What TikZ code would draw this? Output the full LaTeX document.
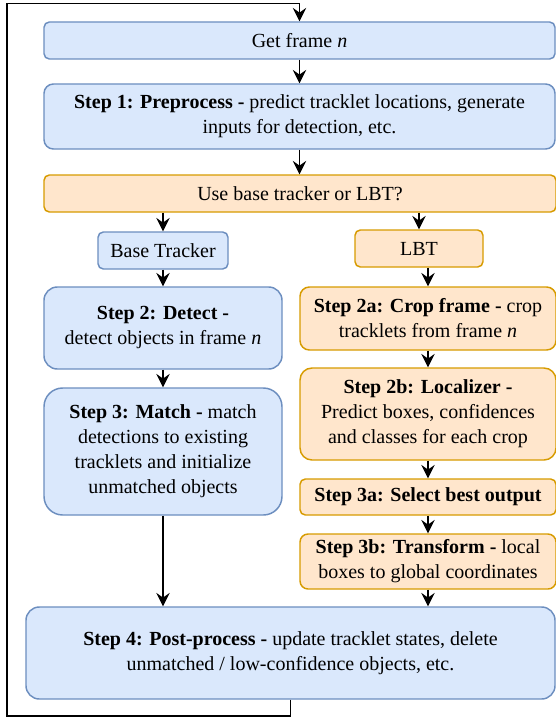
\documentclass[tikz,border=0pt]{standalone}
\usepackage{fontspec}
\setmainfont{Liberation Serif}
\usetikzlibrary{arrows.meta}
\definecolor{bfill}{HTML}{DAE8FC}
\definecolor{bline}{HTML}{6C8EBF}
\definecolor{ofill}{HTML}{FFE6CC}
\definecolor{oline}{HTML}{D79B00}

\tikzset{
	box/.style = {draw, line width = 1.1pt, inner sep = 0pt, align = center, font = \rmfamily\fontsize{15}{18.75}\selectfont},
	bluebox/.style = {box, fill = bfill, draw = bline, rounded corners = #1},
	bluebox/.default = 4pt,
	orangebox/.style = {box, fill = ofill, draw = oline, rounded corners = #1},
	orangebox/.default = 4pt,
	flow/.style = {line width = 1.2pt, -{Stealth[length = 10pt, width = 10pt, inset = 3.5pt]}}
}

\begin{document}
\begin{tikzpicture}[x = 0.75pt, y = -0.75pt]
	\useasboundingbox (0,0) rectangle (556,717);
	% main column
	\node[bluebox, minimum width = 383.25pt, minimum height = 27.75pt] (getframe) at (299.5,40.5) {Get frame \textit{n}};
	\node[bluebox = 7pt, minimum width = 383.25pt, minimum height = 48.75pt] (step1) at (299.5,116.5) {\textbf{Step 1: Preprocess -} predict tracklet locations, generate\\inputs for detection, etc.};
	\node[orangebox, minimum width = 384pt, minimum height = 27.75pt] (choice) at (300,193.5) {Use base tracker or LBT?};
	% base tracker branch
	\node[bluebox, minimum width = 97.5pt, minimum height = 27.75pt] (base) at (163,250.5) {Base Tracker};
	\node[bluebox = 10pt, minimum width = 178.5pt, minimum height = 61.5pt] (step2) at (163,328) {\textbf{Step 2: Detect -}\\detect objects in frame \textit{n}};
	\node[bluebox = 14pt, minimum width = 178.5pt, minimum height = 95.25pt] (step3) at (163,451.5) {\textbf{Step 3: Match -} match\\detections to existing\\tracklets and initialize\\unmatched objects};
	% LBT branch
	\node[orangebox, minimum width = 96pt, minimum height = 27.75pt] (lbt) at (419,248.5) {LBT};
	\node[orangebox = 7pt, minimum width = 192pt, minimum height = 47.25pt] (s2a) at (428,318.5) {\textbf{Step 2a: Crop frame -} crop\\tracklets from frame \textit{n}};
	\node[orangebox = 9pt, minimum width = 192pt, minimum height = 69pt] (s2b) at (428,414) {\textbf{Step 2b: Localizer -}\\Predict boxes, confidences\\and classes for each crop};
	\node[orangebox, minimum width = 192pt, minimum height = 27pt] (s3a) at (428,497) {\textbf{Step 3a: Select best output}};
	\node[orangebox = 6pt, minimum width = 192pt, minimum height = 41.25pt] (s3b) at (428,561.5) {\textbf{Step 3b: Transform -} local\\boxes to global coordinates};
	% final step
	\node[bluebox = 10pt, minimum width = 396.75pt, minimum height = 69pt] (step4) at (290.5,653) {\textbf{Step 4: Post-process -} update tracklet states, delete\\unmatched / low-confidence objects, etc.};
	% arrows
	\draw[flow] (getframe) -- (step1);
	\draw[flow] (step1) -- (step1.south |- choice.north);
	\draw[flow] (base.north |- choice.south) -- (base);
	\draw[flow] (lbt.north |- choice.south) -- (lbt);
	\draw[flow] (base) -- (step2);
	\draw[flow] (step2) -- (step3);
	\draw[flow] (step3) -- (step3.south |- step4.north);
	\draw[flow] (s2a.north |- lbt.south) -- (s2a);
	\draw[flow] (s2a) -- (s2b);
	\draw[flow] (s2b) -- (s3a);
	\draw[flow] (s3a) -- (s3b);
	\draw[flow] (s3b) -- (s3b.south |- step4.north);
	% loop back
	\coordinate (lb) at (7,716);
	\coordinate (lt) at (7,3.5);
	\draw[flow] (step4.south) |- (lb) -- (lt) -| (getframe.north);
\end{tikzpicture}
\end{document}
